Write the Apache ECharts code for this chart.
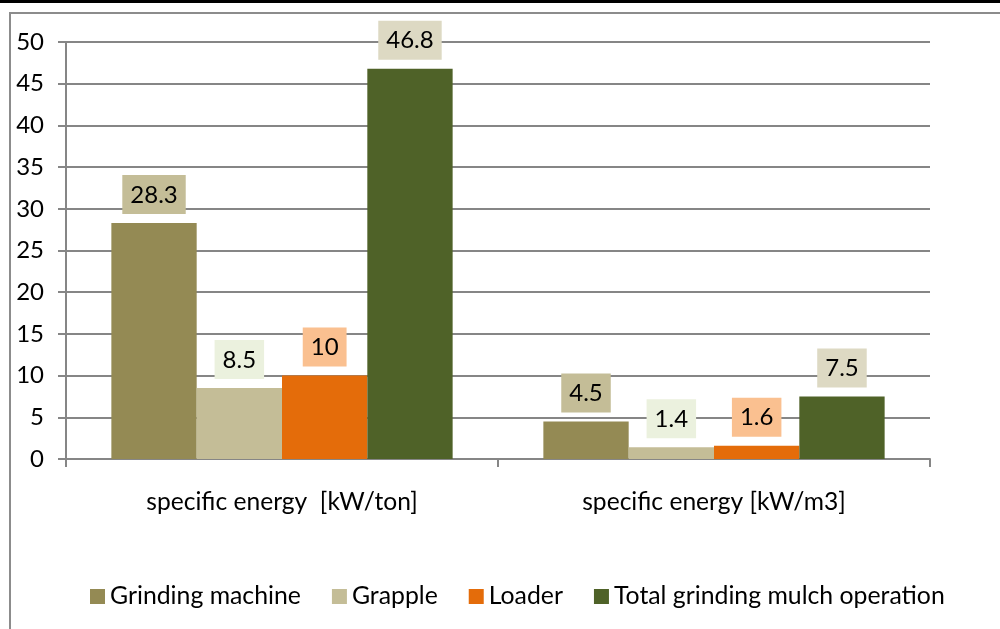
<!DOCTYPE html>
<html><head><meta charset="utf-8">
<script src="https://cdn.jsdelivr.net/npm/echarts@6/dist/echarts.min.js"></script>
<style>html,body{margin:0;padding:0;background:#fff}#c{width:1000px;height:629px}</style>
</head><body><div id="c"></div>
<script>
const categories = ['specific energy  [kW/ton]', 'specific energy [kW/m3]'];
const seriesNames = ['Grinding machine', 'Grapple', 'Loader', 'Total grinding mulch operation'];
const grindingMachine = [28.3, 4.5];
const grapple = [8.5, 1.4];
const loader = [10, 1.6];
const totalOperation = [46.8, 7.5];
const yTicks = [0, 5, 10, 15, 20, 25, 30, 35, 40, 45, 50];

const colors = ['#948a54', '#c4bd97', '#e46c0a', '#4f6228'];
const labelBg = ['#c4bd97', '#ebf1de', '#fac090', '#ddd9c3'];
const values = [grindingMachine, grapple, loader, totalOperation];
const FONT = 'Lato';
const FS = 24;

const chart = echarts.init(document.getElementById('c'));
chart.setOption({
  animation: false,
  textStyle: { fontFamily: FONT },
  graphic: [
    { type: 'rect', shape: { x: 0, y: 0, width: 1000, height: 3 }, style: { fill: '#000' } },
    { type: 'rect', shape: { x: 10, y: 13, width: 1000, height: 630 }, style: { fill: 'none', stroke: '#8c8c8c', lineWidth: 2 }, z: -1 }
  ],
  legend: {
    top: 579, left: 85,
    itemWidth: 15, itemHeight: 15, itemGap: 31,
    icon: 'rect',
    textStyle: { fontSize: 24.8, color: '#000', fontFamily: FONT },
    data: seriesNames
  },
  grid: { left: 66, right: 70, top: 42, bottom: 170 },
  xAxis: {
    type: 'category', data: categories,
    axisLine: { lineStyle: { color: '#868686', width: 2 } },
    axisTick: { show: true, length: 8, lineStyle: { color: '#868686', width: 2 } },
    axisLabel: { fontSize: 24.6, color: '#000', margin: 31, fontFamily: FONT }
  },
  yAxis: {
    type: 'value', min: yTicks[0], max: yTicks[yTicks.length - 1], interval: 5,
    axisLine: { show: true, lineStyle: { color: '#868686', width: 2 } },
    axisTick: { show: true, length: 8, lineStyle: { color: '#868686', width: 2 } },
    splitLine: { lineStyle: { color: '#868686', width: 2 } },
    axisLabel: { fontSize: FS, color: '#000', margin: 22, fontFamily: FONT }
  },
  series: seriesNames.map((n, i) => ({
    name: n, type: 'bar', data: values[i],
    barGap: '0%', barCategoryGap: '21%',
    itemStyle: { color: colors[i] },
    label: {
      show: true, position: 'top', distance: 9,
      fontSize: FS, color: '#000', fontFamily: FONT,
      backgroundColor: labelBg[i], padding: [8, 8, 7, 8]
    }
  }))
});
</script></body></html>
